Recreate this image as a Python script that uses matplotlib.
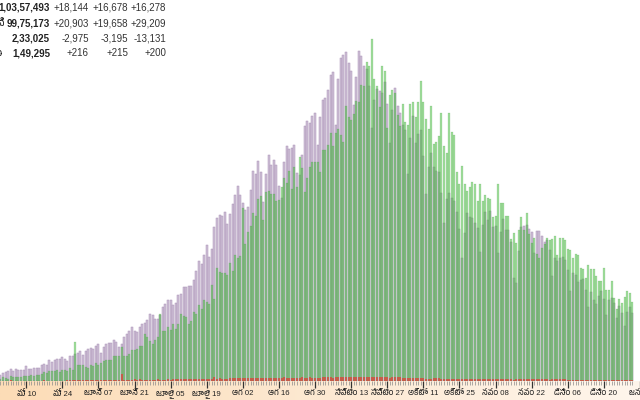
import numpy as np
import pandas as pd
import matplotlib
matplotlib.use('Agg')
import matplotlib.pyplot as plt
import matplotlib.dates as mdates
from matplotlib import font_manager as fm
from matplotlib.ft2font import FT2Font
from matplotlib.colors import LinearSegmentedColormap

# ---------------- data ----------------
start_date = '2020-04-30'
end_date = '2020-12-31'

cases = [1801,
    2396, 2564, 2952, 3656, 2971, 3602, 3344, 3339, 3175, 4311, 3592, 3562, 3726, 3991, 3808, 4794, 5049, 4628, 6147, 5553, 6198, 6568, 6629, 7111, 6414, 5843, 7293, 7300, 8105, 8336, 8782,
    7761, 8821, 9633, 9889, 9471, 10438, 10884, 8442, 9985, 10956, 11156, 11306, 12034, 11502, 10032, 11090, 13108, 13829, 14721, 15918, 14821, 14544, 15968, 16868, 17296, 18185, 19906, 19620, 18339, 18256,
    19429, 21947, 22718, 24018, 23942, 22510, 23135, 25559, 25790, 27762, 27755, 28179, 28178, 29917, 32607, 35468, 34820, 37411, 40243, 36806, 39170, 45601, 48443, 49310, 48892, 50072, 46484, 49632, 52479, 55078, 57704,
    55117, 52783, 50629, 51706, 56626, 62170, 61455, 65156, 62117, 53016, 61252, 67066, 64142, 65609, 63986, 57981, 54300, 65022, 69672, 68900, 69039, 70067, 61749, 60975, 67151, 75715, 77170, 76665, 78479, 79457, 69921,
    78169, 83341, 83883, 86432, 90632, 91723, 75809, 89706, 95735, 96551, 97570, 94372, 92071, 81911, 90123, 97894, 96424, 93337, 92605, 87382, 75083, 83347, 86508, 86052, 85362, 88600, 82170, 70589, 80472, 86821,
    81484, 79476, 75829, 74442, 61267, 72049, 78524, 70496, 73272, 74383, 66732, 55342, 63509, 67708, 63371, 62212, 61871, 55722, 46790, 54044, 55839, 54366, 53370, 50129, 45148, 36470, 43893, 49881, 48648, 48268, 46963,
    45231, 38310, 46253, 50209, 47638, 50357, 45674, 45903, 38073, 44281, 47905, 44879, 44878, 41100, 30548, 29163, 38617, 45576, 45882, 46232, 45209, 44059, 37975, 44376, 44489, 43082, 41322, 41810, 38772, 31118,
    36604, 35551, 36595, 36652, 36011, 32981, 26567, 32080, 31521, 29398, 30006, 30254, 27071, 22065, 26382, 24010, 22890, 25152, 26624, 24337, 19556, 23950, 24712, 23067, 18732, 22272, 20021, 16432, 20550, 21822, 20035]

recovered = [630,
    1100, 1000, 700, 1500, 1300, 1100, 1300, 1100, 1400, 1500, 1400, 1900, 1500, 1900, 1900, 2200, 2700, 2500, 3000, 3000, 3100, 3300, 2600, 3300, 3200, 3000, 3900, 3400, 11700, 4600, 4800,
    4800, 4100, 3800, 4700, 4400, 5200, 4700, 5200, 5900, 6100, 6200, 6200, 7300, 7400, 7400, 10200, 7400, 7400, 8000, 9100, 9100, 9400, 10500, 10500, 13900, 13000, 12000, 11000, 12100, 13000,
    20000, 14800, 14800, 16000, 15000, 16900, 15500, 16800, 19900, 19200, 19000, 17000, 17900, 20600, 20000, 22600, 21500, 23900, 23500, 22700, 28500, 24300, 33400, 32200, 32000, 31900, 31500, 35100, 32500, 37400, 36600,
    37200, 51200, 40600, 44300, 46100, 49800, 48900, 53900, 54800, 47700, 56100, 56400, 55600, 55600, 53300, 53700, 57500, 60100, 58700, 62300, 57000, 63600, 57400, 66500, 63200, 56000, 60200, 63600, 64900, 65000, 65100,
    62000, 68600, 68600, 70000, 73600, 69600, 73500, 74600, 72900, 70900, 81500, 78400, 77500, 79300, 82900, 82700, 87800, 87500, 94600, 93400, 101500, 89700, 87400, 81200, 93400, 92000, 74900, 84900, 86400, 85400,
    78900, 75600, 82200, 76700, 75800, 82200, 82800, 78400, 82800, 89100, 82800, 77700, 74600, 81500, 70300, 70800, 72600, 79400, 69700, 67500, 79400, 73900, 73000, 62100, 58400, 63800, 58400, 56500, 57400, 59100, 58400,
    53300, 58300, 53300, 55300, 54200, 53900, 48500, 49000, 58300, 52700, 52700, 49000, 49000, 42100, 43800, 40800, 44700, 48500, 44800, 49700, 43500, 41000, 42300, 37800, 36400, 39400, 40700, 42300, 41900, 42000,
    43000, 37500, 42500, 42500, 41900, 39100, 39000, 36600, 37700, 37500, 33400, 33100, 30600, 34500, 33300, 33300, 31100, 29800, 29700, 33400, 26900, 26900, 29800, 24700, 21400, 24200, 23000, 24900, 26600, 26100, 23300]

deaths = [71,
    77, 83, 68, 195, 126, 89, 104, 96, 116, 111, 87, 121, 134, 100, 104, 120, 157, 134, 132, 140, 137, 148, 142, 147, 146, 170, 194, 175, 269, 193, 230,
    230, 204, 259, 273, 286, 297, 258, 266, 273, 357, 396, 386, 311, 325, 380, 2003, 341, 336, 375, 306, 445, 312, 465, 418, 410, 386, 384, 410, 417, 506,
    434, 379, 442, 613, 421, 465, 482, 475, 487, 519, 551, 500, 553, 582, 606, 687, 671, 543, 681, 587, 675, 1129, 740, 757, 705, 708, 654, 768, 775, 783, 764,
    853, 803, 857, 904, 857, 886, 933, 1013, 1007, 871, 1006, 1007, 950, 996, 941, 876, 944, 1092, 979, 983, 945, 912, 834, 836, 1059, 1021, 1021, 1057, 948, 971, 818,
    1025, 1043, 1096, 1066, 1065, 1016, 1133, 1115, 1172, 1209, 1201, 1114, 1136, 1054, 1290, 1132, 1174, 1247, 1130, 1133, 1053, 1085, 1129, 1141, 1089, 1124, 1039, 776, 1179, 1181,
    1095, 1069, 940, 903, 884, 986, 971, 964, 926, 918, 816, 706, 730, 680, 895, 1033, 837, 579, 587, 717, 706, 690, 650, 578, 587, 488, 517, 517, 563, 551, 470,
    490, 449, 514, 704, 670, 577, 559, 490, 448, 512, 550, 547, 670, 447, 435, 449, 474, 584, 584, 564, 501, 511, 481, 480, 584, 492, 485, 496, 443, 482,
    501, 526, 540, 512, 482, 391, 387, 402, 414, 416, 442, 391, 336, 355, 387, 355, 338, 347, 341, 333, 301, 333, 333, 312, 251, 251, 279, 252, 286, 299, 251]

tick_dates = ['2020-05-10', '2020-05-24', '2020-06-07', '2020-06-21', '2020-07-05', '2020-07-19',
              '2020-08-02', '2020-08-16', '2020-08-30', '2020-09-13', '2020-09-27', '2020-10-11',
              '2020-10-25', '2020-11-08', '2020-11-22', '2020-12-06', '2020-12-20', '2021-01-03']
tick_labels = ['మే 10', 'మే 24', 'జూన్ 07', 'జూన్ 21', 'జూలై 05', 'జూలై 19',
               'ఆగ 02', 'ఆగ 16', 'ఆగ 30', 'సెప్టెం 13', 'సెప్టెం 27', 'అక్టో 11',
               'అక్టో 25', 'నవం 08', 'నవం 22', 'డిసెం 06', 'డిసెం 20', 'జన 03']

table_labels = ['నిర్ధారించబడిన', 'కోలుకున్నవి', 'యాక్టివ్', 'మరణాలు']
table_totals = ['1,03,57,493', '99,75,173', '2,33,025', '1,49,295']
table_d1 = ['+18,144', '+20,903', '-2,975', '+216']
table_d2 = ['+16,678', '+19,658', '-3,195', '+215']
table_d3 = ['+16,278', '+29,209', '-13,131', '+200']

# ---------------- fonts ----------------
telugu = None
cands = sorted(fm.fontManager.ttflist, key=lambda f: (0 if 'Telugu' in f.name else 1, f.name))
for f in cands:
    try:
        if 0x0C2E in FT2Font(f.fname).get_charmap():
            telugu = f.name
            break
    except Exception:
        pass
fam = ['Liberation Sans', 'DejaVu Sans']
if telugu:
    fam = ['Liberation Sans', telugu, 'DejaVu Sans']
plt.rcParams['font.family'] = fam

# ---------------- figure ----------------
W, H = 640, 400
base_px = 381
fig = plt.figure(figsize=(W / 100, H / 100), dpi=100)
fig.patch.set_facecolor('white')

# bottom strip background
sax = fig.add_axes([0, 0, 1, (H - base_px) / H], zorder=0)
grad = np.linspace(0, 1, 256).reshape(1, -1)
cmap = LinearSegmentedColormap.from_list('strip', ['#fcdcb6', '#fde9d2', '#fff6ec'])
sax.imshow(grad, aspect='auto', cmap=cmap, extent=[0, 1, 0, 1])
sax.set_axis_off()

ax = fig.add_axes([0, (H - base_px) / H, 1, base_px / H], zorder=1)
ax.patch.set_alpha(0)
dates = pd.date_range(start_date, end_date, freq='D')
x = mdates.date2num(dates)

ax.bar(x, cases, width=0.78, color='#cfbfd7', edgecolor='#a993b5', linewidth=0.35, zorder=2)
ax.bar(x, recovered, width=0.78, color='#47bf3d', alpha=0.5, edgecolor='#3e8f3a', linewidth=0.2, zorder=3)
ax.bar(x, deaths, width=0.78, color='#e0403a', alpha=0.75, linewidth=0, zorder=4)

ax.set_xlim(x[0] - 0.17, x[-1] + 0.33)
ax.set_ylim(0, 113000)
for s in ax.spines.values():
    s.set_visible(False)
ax.yaxis.set_visible(False)

ax.set_xticks(mdates.date2num(pd.to_datetime(tick_dates)))
ax.set_xticklabels(tick_labels)
ax.set_xticks(x, minor=True)
ax.tick_params(axis='x', which='major', direction='out', length=5, width=0.9, color='#333333',
               labelsize=5.6, pad=1.5, labelcolor='#222222')
ax.tick_params(axis='x', which='minor', direction='out', length=3, width=0.5, color='#8a8a8a')

# ---------------- table ----------------
rows_y = [7.5, 23.5, 38.5, 53.5]
def fx(px):
    return px / W
def fy(py):
    return 1 - py / H
label_right = [-3, 5, -3, 3]
for i, yy in enumerate(rows_y):
    fig.text(fx(label_right[i]), fy(yy), table_labels[i], ha='right', va='center', fontsize=7, color='#222222')
    fig.text(fx(50), fy(yy), table_totals[i], ha='right', va='center', fontsize=7, fontweight='bold', color='#222222')
    fig.text(fx(89), fy(yy), table_d1[i], ha='right', va='center', fontsize=7, color='#333333')
    fig.text(fx(128), fy(yy), table_d2[i], ha='right', va='center', fontsize=7, color='#333333')
    fig.text(fx(166), fy(yy), table_d3[i], ha='right', va='center', fontsize=7, color='#333333')

fig.savefig('out.png', dpi=100)
